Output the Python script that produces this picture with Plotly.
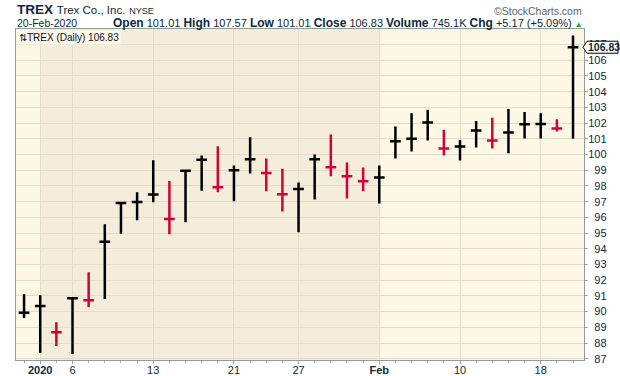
import plotly.graph_objects as go

# ---- data ----
dates = ["2019-12-31", "2020-01-02", "2020-01-03", "2020-01-06", "2020-01-07", "2020-01-08",
         "2020-01-09", "2020-01-10", "2020-01-13", "2020-01-14", "2020-01-15", "2020-01-16",
         "2020-01-17", "2020-01-21", "2020-01-22", "2020-01-23", "2020-01-24", "2020-01-27",
         "2020-01-28", "2020-01-29", "2020-01-30", "2020-01-31", "2020-02-03", "2020-02-04",
         "2020-02-05", "2020-02-06", "2020-02-07", "2020-02-10", "2020-02-11", "2020-02-12",
         "2020-02-13", "2020-02-14", "2020-02-18", "2020-02-19", "2020-02-20"]
highs = [91.10, 91.04, 89.32, 90.90, 92.50, 95.56, 96.96, 97.60, 99.64, 98.32, 99.04, 99.94,
         100.53, 99.30, 101.10, 99.75, 99.10, 98.22, 100.00, 101.27, 99.49, 99.17, 99.30, 101.78,
         102.63, 102.85, 101.57, 100.93, 102.14, 102.34, 102.89, 102.70, 102.63, 102.25, 107.57]
lows = [89.60, 87.37, 87.81, 87.30, 90.30, 90.81, 94.95, 95.82, 96.96, 94.93, 95.69, 97.70,
        97.60, 97.03, 98.79, 97.66, 96.37, 95.05, 97.13, 98.62, 97.20, 97.66, 96.88, 99.75,
        100.19, 100.89, 99.94, 99.62, 100.45, 100.38, 100.08, 101.02, 101.02, 101.46, 101.01]
closes = [89.92, 90.36, 88.68, 90.85, 90.72, 94.44, 96.92, 96.98, 97.45, 95.90, 98.96, 99.67,
          97.92, 99.00, 99.70, 98.83, 97.47, 97.80, 99.70, 99.19, 98.62, 98.30, 98.54, 100.84,
          101.00, 102.04, 100.38, 100.51, 101.53, 100.89, 101.40, 101.92, 101.95, 101.66, 106.83]

tick_dates = ["2020-01-02", "2020-01-06", "2020-01-13", "2020-01-21", "2020-01-27",
              "2020-02-03", "2020-02-10", "2020-02-18"]
tick_labels = ["<b>2020</b>", "6", "13", "21", "27", "<b>Feb</b>", "10", "18"]
y_ticks = list(range(87, 108))
shade_start, shade_end = "2020-01-02", "2020-02-03"

header_stats = [("Open", "101.01"), ("High", "107.57"), ("Low", "101.01"),
                ("Close", "106.83"), ("Volume", "745.1K"), ("Chg", "+5.17 (+5.09%)")]

# ---- figure ----
xs = list(range(len(dates)))
up_idx = [i for i in xs if i == 0 or closes[i] >= closes[i - 1]]
dn_idx = [i for i in xs if i not in up_idx]

BLACK = "#000000"
RED = "#D3003A"
FONT = "Arial, Liberation Sans, sans-serif"
NAVY = "#0E2A3C"

fig = go.Figure()
for idx, col in ((up_idx, BLACK), (dn_idx, RED)):
    fig.add_trace(go.Ohlc(
        x=[xs[i] for i in idx],
        open=[closes[i] for i in idx],
        high=[highs[i] for i in idx],
        low=[lows[i] for i in idx],
        close=[closes[i] for i in idx],
        increasing=dict(line=dict(color=col, width=2.5)),
        decreasing=dict(line=dict(color=col, width=2.5)),
        tickwidth=0.33,
        showlegend=False,
        hoverinfo="skip",
    ))

W, H = 620, 376
L, T, R, B = 16, 29, 36, 16
pw, ph = W - L - R, H - T - B


def px(xp):
    return (xp - L) / pw


def py(yp):
    return (H - B - yp) / ph


fig.add_shape(type="rect", xref="x", yref="paper",
              x0=dates.index(shade_start), x1=dates.index(shade_end), y0=0, y1=1,
              fillcolor="#F4EDDC", line_width=0, layer="below")

# price tag
fig.add_shape(type="path", xref="paper", yref="y", xsizemode="pixel", ysizemode="pixel",
              xanchor=1, yanchor=closes[-1],
              path="M -1 0 L 3 6 L 34 6 L 34 -6 L 3 -6 Z",
              fillcolor="white", line=dict(color="black", width=1), layer="above")
fig.add_annotation(xref="paper", yref="y", x=1, y=closes[-1], xanchor="left", yanchor="middle",
                   xshift=2, text=f"<b>{closes[-1]:.2f}</b>", showarrow=False,
                   font=dict(family=FONT, size=10.5, color=NAVY))

# in-plot label
fig.add_annotation(xref="paper", yref="paper", x=0, y=1, xanchor="left", yanchor="top",
                   xshift=1, yshift=-1,
                   text=f"⇅TREX (Daily) {closes[-1]:.2f}", showarrow=False,
                   bgcolor="#FDF8EA", borderpad=1,
                   font=dict(family=FONT, size=10, color="#111"))

# header
fig.add_annotation(xref="paper", yref="paper", x=px(15), y=py(10), xanchor="left", yanchor="middle",
                   text="<b>TREX</b> <span style='font-size:11.5px'>Trex Co., Inc.</span> "
                        "<span style='font-size:9px'>NYSE</span>",
                   showarrow=False, font=dict(family=FONT, size=13.5, color=NAVY))
fig.add_annotation(xref="paper", yref="paper", x=px(15), y=py(23), xanchor="left", yanchor="middle",
                   text="20-Feb-2020", showarrow=False, font=dict(family=FONT, size=10.5, color=NAVY))
stats_txt = " ".join(f"<b><span style='font-size:12px'>{k}</span></b> {v}" for k, v in header_stats)
stats_txt += " <span style='color:#2E9A3A;font-size:8px'>▲</span>"
fig.add_annotation(xref="paper", yref="paper", x=px(585), y=py(23), xanchor="right", yanchor="middle",
                   text=stats_txt, showarrow=False, font=dict(family=FONT, size=11, color=NAVY))
fig.add_annotation(xref="paper", yref="paper", x=px(584), y=py(11), xanchor="right", yanchor="middle",
                   text="©StockCharts.com", showarrow=False, font=dict(family=FONT, size=10.5, color="#5A6470"))

fig.update_layout(
    width=W, height=H,
    margin=dict(l=L, r=R, t=T, b=B),
    paper_bgcolor="white",
    plot_bgcolor="#FDF7E5",
    font=dict(family=FONT, size=11, color=NAVY),
    xaxis=dict(
        range=[-0.5, 34.68],
        tickmode="array",
        tickvals=[dates.index(d) for d in tick_dates],
        ticktext=tick_labels,
        showgrid=True, gridcolor="#E4DCC8", gridwidth=1,
        ticks="outside", ticklen=3, tickcolor="#9AA6A6",
        ticklabelstandoff=-3,
        minor=dict(tickmode="linear", tick0=0, dtick=1, ticks="outside", ticklen=2,
                   tickcolor="#9AA6A6", showgrid=False),
        showline=True, linecolor="#8E9C9C", linewidth=1, mirror=True,
        rangeslider=dict(visible=False),
        tickfont=dict(family=FONT, size=11, color=NAVY),
        zeroline=False, fixedrange=True, automargin=False,
    ),
    yaxis=dict(
        side="right",
        range=[86.92, 107.99],
        tickmode="array",
        tickvals=y_ticks,
        ticktext=[("\u2007" + str(v)) if v < 100 else str(v) for v in y_ticks],
        showgrid=True, gridcolor="#E4DCC8", gridwidth=1,
        ticks="outside", ticklen=3, tickcolor="#9AA6A6",
        ticklabelstandoff=-2,
        showline=True, linecolor="#8E9C9C", linewidth=1, mirror=True,
        tickfont=dict(family=FONT, size=11, color=NAVY),
        zeroline=False, fixedrange=True, automargin=False,
    ),
)

fig.write_html(
    "out.html",
    config={"displayModeBar": False, "staticPlot": True},
    post_script="document.body.style.margin='0';document.body.style.padding='0';"
                "document.body.style.overflow='hidden';"
                "document.documentElement.style.overflow='hidden';",
)
